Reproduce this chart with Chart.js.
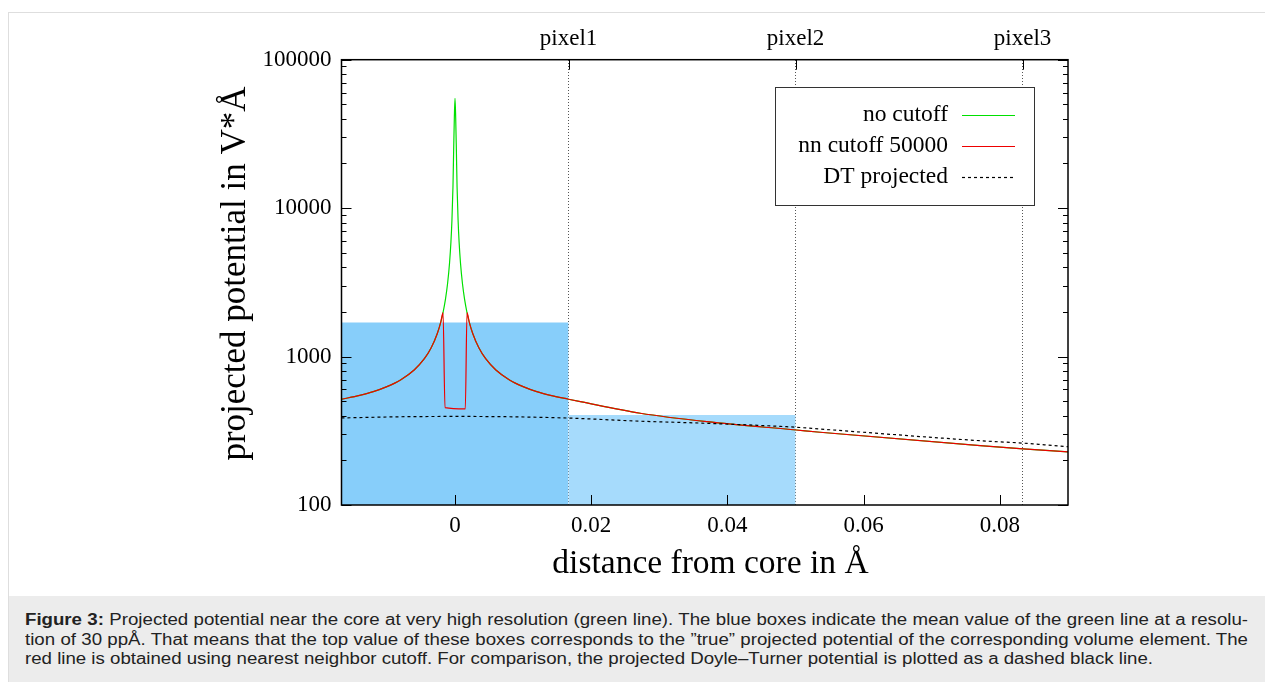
<!DOCTYPE html>
<html>
<head>
<meta charset="utf-8">
<script src="https://cdn.jsdelivr.net/npm/chart.js@4.4.1/dist/chart.umd.min.js"></script>
<style>
  html, body { margin: 0; padding: 0; background: #fff; width: 1265px; height: 682px; overflow: hidden; position: relative; }
  #panel { position: absolute; left: 8px; top: 12px; width: 1300px; height: 700px; border: 1px solid #dedede; box-sizing: border-box; }
  #cv { position: absolute; left: 0; top: 0; }
  #caption { position: absolute; left: 9px; top: 596px; width: 1256px; height: 86px; background: #ececec; }
  #capText { position: absolute; left: 16px; top: 14px; font: 16px "Liberation Sans", Arial, sans-serif; color: #222; transform-origin: 0 0; }
  .ln { height: 19.5px; line-height: 19.5px; white-space: nowrap; }
  .j { white-space: normal; text-align: justify; text-align-last: justify; overflow: hidden; }
  #ln3 { display: inline-block; }
</style>
</head>
<body>
<div id="panel"></div>
<canvas id="cv" width="1265" height="596"></canvas>
<div id="caption">
  <div id="capText">
    <div class="ln j"><b>Figure 3:</b> Projected potential near the core at very high resolution (green line). The blue boxes indicate the mean value of the green line at a resolu-</div>
    <div class="ln j">tion of 30 ppÅ. That means that the top value of these boxes corresponds to the ”true” projected potential of the corresponding volume element. The</div>
    <div class="ln"><span id="ln3">red line is obtained using nearest neighbor cutoff. For comparison, the projected Doyle–Turner potential is plotted as a dashed black line.</span></div>
  </div>
</div>
<script>
// ---- axis setup ----
const xTickValues = [0, 0.02, 0.04, 0.06, 0.08];
const xTickLabels = ['0', '0.02', '0.04', '0.06', '0.08'];
const yTickValues = [100, 1000, 10000, 100000];
const yTickLabels = ['100', '1000', '10000', '100000'];

// pixel boundaries at 30 px per Å (pixel centres at 0, 1/30, ...)
const pixelEdges = [-1 / 60, 1 / 60, 3 / 60, 5 / 60];
const pixelLabels = ['pixel1', 'pixel2', 'pixel3'];
// mean of the unclipped curve over each pixel (V*Å)
const boxMean = [1695, 404];

// ---- series (distance in Å, potential in V*Å) ----
const distance = [-0.01667, -0.014, -0.012, -0.010, -0.008, -0.006, -0.0045, -0.0035, -0.0026, -0.0021,
  -0.00176, -0.0014, -0.0011, -0.0008, -0.0006, -0.00045, -0.0003, -0.0002, -0.0001, 0,
  0.0001, 0.0002, 0.0003, 0.00045, 0.0006, 0.0008, 0.0011, 0.0014, 0.00176,
  0.0021, 0.0026, 0.0035, 0.0045, 0.006, 0.008, 0.010, 0.012, 0.014, 0.01667,
  0.0184, 0.0272, 0.0370, 0.0501, 0.0536, 0.0771, 0.0834, 0.0900];
const noCutoff = [516, 548, 580, 627, 696, 812, 967, 1146, 1431, 1701,
  1979, 2439, 3080, 4291, 5914, 8328, 13980, 24460, 40500, 55000,
  40500, 24460, 13980, 8328, 5914, 4291, 3080, 2439, 1979,
  1701, 1431, 1146, 967, 812, 696, 627, 580, 548, 516,
  497, 415, 364, 320, 309, 251, 239, 228];

const nnDistance = [-0.01667, -0.014, -0.012, -0.010, -0.008, -0.006, -0.0045, -0.0035, -0.0026, -0.0021,
  -0.00176, -0.00147, 0.00151, 0.00176,
  0.0021, 0.0026, 0.0035, 0.0045, 0.006, 0.008, 0.010, 0.012, 0.014, 0.01667,
  0.0184, 0.0272, 0.0370, 0.0501, 0.0536, 0.0771, 0.0834, 0.0900];
const nnCutoff = [516, 548, 580, 627, 696, 812, 967, 1146, 1431, 1701,
  1979, 453, 444, 1979,
  1701, 1431, 1146, 967, 812, 696, 627, 580, 548, 516,
  497, 415, 364, 320, 309, 251, 239, 228];

const dtDistance = [-0.01667, -0.008, 0, 0.008, 0.0167, 0.0272, 0.0370, 0.0501, 0.0536, 0.0771, 0.0834, 0.0900];
const dtProjected = [386, 393, 395, 393, 385, 367, 355, 334, 325, 271, 261, 247];

// ---- layout ----
const CANVAS_H = 596;
const AREA = { left: 341.5, top: 59.7, right: 1068, bottom: 505 };
const SERIF = '"Liberation Serif", "Times New Roman", serif';

const pts = (xs, ys) => xs.map((x, i) => ({ x, y: ys[i] }));
const isDecade = v => Math.abs(Math.log10(v) - Math.round(Math.log10(v))) < 1e-9;

function boxData(i) {
  return [{ x: pixelEdges[i], y: boxMean[i] }, { x: pixelEdges[i + 1], y: boxMean[i] }];
}

const legendOrder = ['no cutoff', 'nn cutoff 50000', 'DT projected'];

// gnuplot-like frame: inward ticks, border, key box, axis titles
const frame = {
  id: 'frame',
  afterDraw(chart) {
    const { ctx, chartArea: a, scales } = chart;
    const seg = (x1, y1, x2, y2) => { ctx.beginPath(); ctx.moveTo(x1, y1); ctx.lineTo(x2, y2); ctx.stroke(); };
    ctx.save();
    ctx.strokeStyle = '#000';
    ctx.lineWidth = 1;
    scales.y.ticks.forEach(t => {
      const py = Math.round(scales.y.getPixelForValue(t.value)) + 0.5;
      const len = isDecade(t.value) ? 10 : 5;
      seg(a.left, py, a.left + len, py);
      seg(a.right, py, a.right - len, py);
    });
    scales.x.ticks.forEach(t => {
      const px = Math.round(scales.x.getPixelForValue(t.value)) + 0.5;
      seg(px, a.bottom, px, a.bottom - 10);
    });
    scales.x2.ticks.forEach(t => {
      const px = Math.round(scales.x2.getPixelForValue(t.value)) + 0.5;
      seg(px, a.top, px, a.top + 10);
    });
    ctx.lineWidth = 1.5;
    ctx.strokeRect(a.left, a.top, a.right - a.left, a.bottom - a.top);

    // key
    const kx = 775.5, ky = 87.5, kw = 259, kh = 118;
    ctx.fillStyle = '#fff';
    ctx.fillRect(kx, ky, kw, kh);
    ctx.lineWidth = 1;
    ctx.strokeStyle = '#333';
    ctx.strokeRect(kx, ky, kw, kh);
    ctx.font = '23.5px ' + SERIF;
    ctx.textAlign = 'right';
    ctx.textBaseline = 'middle';
    legendOrder.forEach((name, i) => {
      const ds = chart.data.datasets.find(d => d.label === name);
      const ry = 114.5 + i * 31.2;
      ctx.fillStyle = '#000';
      ctx.fillText(name, 948, ry);
      ctx.strokeStyle = ds.borderColor;
      ctx.lineWidth = ds.borderWidth;
      ctx.setLineDash(ds.borderDash || []);
      seg(962, Math.round(ry) + 0.5, 1015, Math.round(ry) + 0.5);
      ctx.setLineDash([]);
    });

    // axis titles
    ctx.fillStyle = '#000';
    ctx.textAlign = 'center';
    ctx.textBaseline = 'alphabetic';
    ctx.font = '33.5px ' + SERIF;
    ctx.fillText('distance from core in Å', 710.5, 572.7);
    ctx.font = '35px ' + SERIF;
    ctx.translate(245, 273.5);
    ctx.rotate(-Math.PI / 2);
    ctx.fillText('projected potential in V*Å', 0, 0);
    ctx.restore();
  }
};

const tickFont = { family: SERIF, size: 23 };

new Chart(document.getElementById('cv'), {
  type: 'line',
  data: {
    datasets: [
      { label: 'DT projected', data: pts(dtDistance, dtProjected), borderColor: '#000', borderWidth: 1.2,
        borderDash: [3, 3], pointRadius: 0, cubicInterpolationMode: 'monotone', fill: false },
      { label: 'nn cutoff 50000', data: pts(nnDistance, nnCutoff), borderColor: '#ee0000', borderWidth: 1.2,
        pointRadius: 0, cubicInterpolationMode: 'monotone', fill: false },
      { label: 'no cutoff', data: pts(distance, noCutoff), borderColor: '#00e000', borderWidth: 1.2,
        pointRadius: 0, cubicInterpolationMode: 'monotone', fill: false },
      { label: '', data: boxData(1), borderColor: 'rgba(0,0,0,0)', borderWidth: 0, pointRadius: 0,
        backgroundColor: '#a6dbfc', fill: 'start' },
      { label: '', data: boxData(0), borderColor: 'rgba(0,0,0,0)', borderWidth: 0, pointRadius: 0,
        backgroundColor: '#87cefa', fill: 'start' }
    ]
  },
  options: {
    responsive: false,
    devicePixelRatio: 1,
    animation: false,
    events: [],
    layout: { padding: { left: 0, top: 0, bottom: 0, right: 1265 - AREA.right } },
    plugins: { legend: { display: false }, tooltip: { enabled: false } },
    scales: {
      x: {
        type: 'linear', position: 'bottom', min: pixelEdges[0], max: 0.09,
        afterBuildTicks: s => { s.ticks = xTickValues.map(v => ({ value: v })); },
        afterFit: s => { s.height = CANVAS_H - AREA.bottom; },
        ticks: { callback: (v, i) => xTickLabels[i], font: tickFont, color: '#000', padding: 7,
          maxRotation: 0, autoSkip: false },
        grid: { display: false, drawTicks: false },
        border: { display: false }
      },
      x2: {
        type: 'linear', position: 'top', min: pixelEdges[0], max: 0.09, z: 1,
        afterBuildTicks: s => { s.ticks = pixelEdges.slice(1).map(v => ({ value: v })); },
        afterFit: s => { s.height = AREA.top; },
        ticks: { callback: (v, i) => pixelLabels[i], font: tickFont, color: '#000', padding: 7,
          maxRotation: 0, autoSkip: false },
        grid: { display: true, drawOnChartArea: true, drawTicks: false, color: '#555', lineWidth: 1 },
        border: { display: false, dash: [1, 2] }
      },
      y: {
        type: 'logarithmic', position: 'left', min: 100, max: 100000,
        afterBuildTicks: s => {
          const t = [];
          yTickValues.forEach((d, i) => {
            t.push({ value: d });
            if (i < yTickValues.length - 1) for (let k = 2; k <= 9; k++) t.push({ value: k * d });
          });
          s.ticks = t;
        },
        afterFit: s => { s.width = AREA.left; },
        ticks: {
          callback: v => { const i = yTickValues.findIndex(d => Math.abs(d - v) / d < 1e-6); return i >= 0 ? yTickLabels[i] : ''; },
          font: tickFont, color: '#000', padding: 10, autoSkip: false
        },
        grid: { display: false, drawTicks: false },
        border: { display: false }
      }
    }
  },
  plugins: [frame]
});

// caption: fit the last line's width, justify the first two
(function () {
  const cap = document.getElementById('capText');
  const natural = document.getElementById('ln3').getBoundingClientRect().width;
  const s = 1128 / natural;
  cap.style.transform = 'scaleX(' + s + ')';
  document.querySelectorAll('.j').forEach(el => { el.style.width = (1223 / s) + 'px'; });
})();
</script>
</body>
</html>
